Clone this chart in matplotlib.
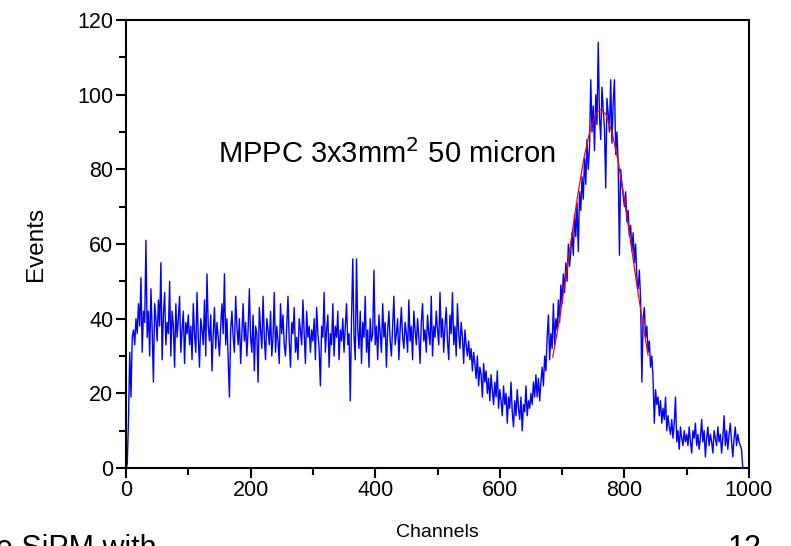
import matplotlib
matplotlib.use("Agg")
import matplotlib.pyplot as plt
import numpy as np

plt.rcParams["font.family"] = ["Liberation Sans", "DejaVu Sans"]

# spectrum, one value every 2 channels (0..998)
counts = [
    0, 1, 13, 31, 19, 35, 37, 33, 40, 36, 44, 38, 51, 31, 42, 39, 61, 35, 42, 30, 48, 37, 23, 44, 40,
    34, 45, 38, 55, 29, 41, 47, 33, 39, 36, 50, 30, 42, 38, 27, 44, 35, 40, 46, 31, 37, 42, 28, 39, 36,
    41, 33, 38, 29, 44, 36, 31, 47, 35, 27, 40, 37, 33, 45, 30, 52, 38, 34, 41, 26, 36, 43, 32, 39, 35,
    30, 38, 44, 36, 52, 33, 40, 29, 19, 37, 42, 35, 31, 46, 38, 33, 40, 28, 36, 44, 34, 39, 30, 37, 48,
    35, 31, 41, 26, 38, 36, 23, 43, 37, 32, 46, 35, 29, 40, 37, 33, 42, 30, 35, 47, 31, 38, 34, 28, 44,
    36, 41, 33, 30, 38, 46, 34, 27, 39, 36, 43, 31, 35, 29, 40, 37, 33, 45, 36, 28, 42, 35, 38, 31, 37,
    34, 40, 29, 43, 36, 32, 22, 38, 35, 47, 31, 37, 41, 27, 36, 33, 44, 30, 38, 35, 42, 29, 37, 34, 40,
    31, 38, 44, 33, 36, 18, 40, 56, 35, 29, 56, 37, 32, 42, 28, 39, 35, 46, 31, 37, 27, 40, 34, 36, 53,
    33, 38, 29, 41, 36, 31, 44, 35, 39, 27, 37, 42, 34, 30, 38, 46, 33, 36, 40, 29, 37, 43, 35, 32, 39,
    36, 31, 45, 34, 38, 29, 42, 37, 33, 40, 35, 28, 39, 44, 34, 37, 31, 41, 36, 33, 46, 30, 38, 35, 42,
    37, 33, 47, 35, 40, 31, 38, 43, 34, 29, 41, 36, 47, 33, 38, 30, 44, 36, 32, 39, 35, 28, 37, 33, 30,
    34, 29, 32, 26, 31, 28, 24, 30, 22, 27, 25, 19, 28, 23, 26, 20, 24, 18, 25, 21, 17, 23, 19, 26, 16,
    21, 18, 14, 22, 17, 20, 12, 19, 16, 23, 15, 11, 18, 14, 21, 16, 13, 19, 10, 17, 15, 22, 14, 18, 16,
    20, 17, 23, 19, 25, 19, 24, 18, 23, 27, 22, 30, 26, 35, 41, 29, 36, 32, 44, 33, 40, 37, 45, 39, 49,
    44, 52, 47, 55, 50, 60, 54, 58, 63, 57, 68, 62, 71, 58, 74, 69, 78, 72, 83, 76, 88, 80, 86, 104, 90,
    97, 85, 100, 92, 114, 94, 88, 102, 96, 91, 75, 99, 95, 90, 104, 87, 98, 104, 84, 90, 82, 57, 80, 76, 73,
    70, 74, 66, 69, 62, 65, 58, 63, 55, 60, 51, 48, 53, 45, 23, 40, 43, 35, 38, 31, 34, 27, 30, 24, 12,
    21, 17, 19, 14, 18, 12, 16, 13, 19, 10, 14, 11, 9, 13, 8, 12, 19, 7, 10, 5, 11, 8, 6, 10, 7,
    9, 6, 11, 7, 4, 10, 8, 12, 6, 9, 5, 8, 13, 7, 10, 3, 8, 11, 6, 9, 7, 4, 10, 8, 6,
    11, 7, 9, 4, 8, 14, 6, 10, 5, 9, 12, 7, 3, 8, 11, 6, 9, 7, 6, 5, 0, 0, 0, 0, 0,
]
channels = np.arange(0, 1000, 2)

fit_ch = [685, 695, 705, 715, 725, 735, 745, 755, 762, 770, 780, 790, 800, 810, 820, 830, 838]
fit_val = [29.7, 39.1, 50.1, 61.7, 73.0, 83.0, 90.6, 95.1, 96.0, 94.8, 90.0, 82.1, 71.9, 60.6, 49.0, 38.1, 30.2]

W, H = 791, 546
fig = plt.figure(figsize=(W / 100, H / 100), dpi=100)
ax = fig.add_axes([126 / W, 78 / H, 623 / W, 448 / H])

ax.plot(channels, counts, color="#0000ff", lw=1.0)
ax.plot(fit_ch, fit_val, color="red", lw=0.9)

ax.set_xlim(0, 1000)
ax.set_ylim(0, 120)
ax.set_xticks(range(0, 1001, 200))
ax.set_xticks(range(100, 1000, 200), minor=True)
ax.set_yticks(range(0, 121, 20))
ax.set_yticks(range(10, 120, 20), minor=True)
ax.tick_params(which="major", direction="out", length=7, width=1.5, labelsize=15.5, pad=2)
ax.tick_params(which="minor", direction="out", length=5, width=1.5)
for s in ax.spines.values():
    s.set_linewidth(1.5)

ax.set_xlabel("Channels", fontsize=14, labelpad=16)
ax.set_ylabel("Events", fontsize=17.5, labelpad=22)

ax.text(147, 84, "MPPC 3x3mm$^2$ 50 micron", fontsize=21, va="center", ha="left")

# slide text cut off at the bottom edge, as in the source
fig.text(-4 / W, 12 / H, "e SiPM with", fontsize=22, va="top", ha="left")
fig.text(728 / W, 12 / H, "12", fontsize=22, va="top", ha="left")

fig.savefig("out.png", dpi=100)
